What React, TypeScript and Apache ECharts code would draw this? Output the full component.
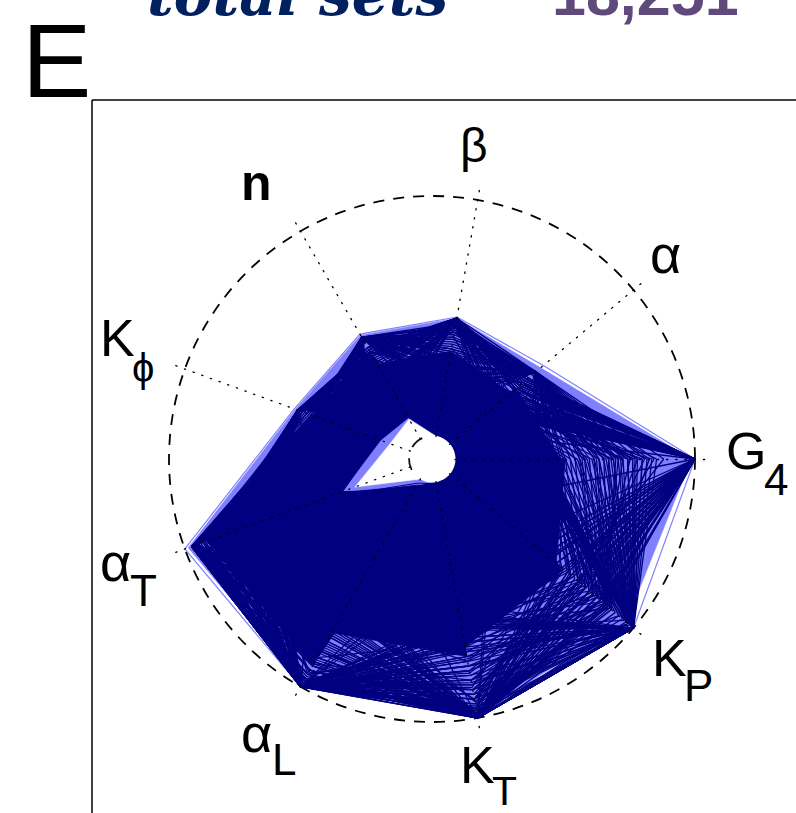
import React, { useEffect, useRef } from "react";
import * as echarts from "echarts";

const axisNames = ["G4", "α", "β", "n", "Kϕ", "αT", "αL", "KT", "KP"];

// Parameter sets, one row per set, read along the axes in the order above (0 = inner circle, 100 = outer circle).
const outerEnvelope = [100, 51, 50.5, 50.5, 51.5, 100, 100, 100, 100];
const lightBody = [98.5, 49.5, 50, 50, 51, 98.5, 98.5, 98.5, 96];
const lightHole = [0, 0, 0, 10, 13, 30, 3, 0, 0];
const emptyHole = [0, 0, 0, 9.6, 9, 24.6, 0, 0, 0];

// Regions where the sets overlap so thickly that they read as solid.
const solidRegions = [
  [0, 0, 0, 0, 0, 90, 90, 0, 0],
  [0, 0, 0, 0, 0, 0, 74, 74, 0],
  [0, 0, 0, 0, 0, 0, 0, 70, 62],
  [46, 0, 0, 0, 0, 0, 0, 0, 58],
  [44, 36, 0, 0, 0, 0, 0, 0, 0],
  [0, 33, 36, 0, 0, 0, 0, 0, 0],
  [0, 0, 36, 36, 0, 0, 0, 0, 0],
  [0, 0, 0, 42, 43, 0, 0, 0, 0],
  [0, 0, 0, 0, 44, 88, 0, 0, 0],
];

const setsAroundHole = [
  [2, 1, 1, 11, 15, 33, 4, 1, 1],
  [1, 1, 1, 12, 17, 36, 3, 2, 1],
  [1, 2, 1, 11, 14, 30, 6, 1, 2],
  [2, 1, 1, 13, 19, 38, 2, 1, 1],
  [1, 1, 2, 12, 16, 41, 5, 1, 1],
];

const setsA = [
  [100, 20, 50, 15, 50, 60, 100, 55, 40], [100, 22, 49, 18, 50, 62, 100, 57, 46], [100, 25, 50, 21, 49, 65, 100, 60, 52],
  [100, 27, 48, 24, 50, 66, 99, 62, 58], [100, 29, 50, 26, 50, 68, 100, 64, 63], [100, 31, 50, 28, 48, 70, 100, 66, 67],
  [99, 33, 49, 30, 50, 71, 100, 68, 71], [100, 35, 50, 32, 50, 73, 98, 70, 74], [100, 36, 50, 34, 49, 75, 100, 72, 77],
  [100, 37, 48, 35, 50, 76, 100, 74, 80], [100, 38, 50, 36, 50, 78, 100, 76, 83], [98, 38, 50, 38, 50, 79, 99, 78, 85],
  [100, 39, 49, 39, 48, 80, 100, 80, 87], [100, 39, 50, 40, 50, 82, 100, 82, 86], [100, 40, 50, 41, 50, 83, 100, 84, 82],
  [100, 40, 50, 42, 49, 85, 97, 86, 78], [100, 41, 48, 43, 50, 86, 100, 88, 74], [100, 41, 50, 44, 50, 88, 100, 90, 70],
  [100, 42, 50, 44, 50, 84, 100, 92, 66], [100, 42, 49, 43, 50, 80, 100, 94, 62], [100, 42, 50, 40, 50, 86, 100, 96, 58],
  [100, 42, 50, 37, 50, 77, 100, 98, 54], [100, 32, 50, 20, 50, 72, 100, 87, 55], [100, 26, 50, 37, 49, 84, 100, 69, 79],
  [100, 41, 48, 29, 50, 64, 100, 92, 61], [100, 36, 50, 44, 50, 87, 99, 58, 69], [99, 24, 50, 33, 48, 77, 100, 75, 84],
  [100, 40, 50, 23, 50, 87, 100, 63, 49], [100, 30, 49, 41, 50, 69, 100, 95, 76], [100, 39, 50, 27, 50, 82, 98, 81, 72],
];

const setsB = [
  [30, 47, 15, 49, 15, 97, 55, 100, 55], [33, 47, 18, 49, 18, 97, 58, 100, 58], [36, 47, 21, 49, 21, 97, 61, 100, 61],
  [38, 46, 23, 49, 23, 96, 63, 100, 64], [40, 47, 25, 48, 25, 97, 65, 99, 66], [42, 47, 27, 49, 27, 97, 67, 100, 68],
  [44, 47, 29, 49, 29, 95, 69, 100, 70], [46, 46, 31, 49, 31, 97, 71, 98, 72], [48, 47, 33, 49, 32, 97, 73, 100, 74],
  [50, 47, 34, 47, 34, 97, 75, 100, 76], [52, 47, 35, 49, 35, 96, 76, 100, 78], [54, 47, 36, 49, 36, 97, 78, 100, 80],
  [56, 45, 37, 49, 37, 97, 79, 99, 82], [58, 47, 38, 49, 38, 94, 81, 100, 84], [60, 47, 39, 48, 39, 97, 83, 100, 86],
  [62, 47, 40, 49, 40, 97, 84, 100, 87], [64, 47, 41, 49, 41, 97, 86, 97, 88], [67, 46, 42, 49, 42, 96, 87, 100, 85],
  [70, 47, 43, 49, 43, 97, 89, 100, 82], [73, 47, 44, 49, 44, 97, 90, 100, 80], [76, 47, 45, 48, 44, 97, 92, 100, 76],
  [79, 47, 46, 49, 43, 97, 94, 100, 72], [83, 47, 47, 49, 42, 97, 96, 100, 70], [87, 47, 48, 49, 40, 97, 98, 100, 66],
  [45, 47, 41, 49, 24, 97, 88, 100, 60], [59, 47, 22, 49, 44, 97, 62, 100, 85], [35, 46, 37, 49, 33, 95, 95, 100, 71],
  [68, 47, 30, 48, 19, 97, 72, 100, 84], [41, 47, 46, 49, 38, 97, 57, 99, 65], [53, 47, 26, 49, 42, 96, 83, 100, 78],
];

const setsC = [
  [42, 20, 48, 30, 22, 97, 60, 72, 100], [50, 33, 20, 49, 30, 70, 100, 60, 100], [58, 46, 30, 20, 50, 75, 64, 100, 100],
  [65, 28, 49, 35, 26, 88, 100, 66, 100], [72, 40, 25, 48, 33, 62, 90, 100, 100], [78, 24, 47, 28, 49, 86, 68, 76, 100],
  [84, 36, 33, 47, 24, 80, 100, 85, 100], [80, 30, 49, 24, 40, 97, 74, 100, 100], [76, 34, 28, 42, 50, 66, 94, 70, 100],
  [46, 25, 42, 47, 37, 97, 100, 62, 100], [55, 38, 48, 26, 43, 73, 82, 100, 100], [62, 47, 22, 38, 49, 84, 58, 93, 100],
  [74, 31, 37, 49, 29, 84, 100, 78, 100], [81, 43, 50, 33, 46, 97, 70, 100, 82], [70, 27, 35, 49, 38, 69, 98, 88, 100],
  [72, 35, 45, 31, 50, 86, 86, 68, 100], [52, 47, 50, 42, 48, 94, 100, 100, 100], [100, 36, 46, 40, 44, 94, 100, 92, 70],
  [60, 46, 49, 43, 41, 97, 92, 100, 100], [100, 38, 44, 41, 46, 92, 100, 96, 64], [68, 40, 48, 39, 43, 97, 96, 100, 100],
  [64, 37, 50, 44, 46, 91, 100, 100, 97], [66, 47, 46, 42, 45, 97, 98, 97, 100], [74, 35, 50, 44, 47, 87, 100, 98, 100],
  [15, 10, 24, 20, 27, 90, 100, 40, 30], [24, 18, 12, 30, 18, 97, 48, 100, 25], [12, 15, 50, 14, 50, 58, 100, 35, 45],
  [20, 47, 10, 49, 12, 82, 30, 100, 22], [28, 12, 30, 49, 20, 97, 40, 52, 100], [100, 8, 35, 12, 50, 40, 100, 28, 18],
];

const setsLower = [
  [36, 20, 20, 24, 30, 97, 100, 71, 100], [38, 22, 24, 26, 32, 72, 100, 74, 98], [34, 24, 18, 22, 28, 97, 100, 76, 66],
  [32, 18, 22, 28, 34, 78, 100, 78, 100], [40, 26, 26, 30, 36, 96, 100, 80, 70], [35, 20, 19, 24, 30, 82, 100, 82, 100],
  [37, 23, 24, 25, 31, 97, 100, 84, 74], [33, 21, 20, 27, 33, 86, 100, 86, 99], [39, 25, 27, 23, 29, 95, 100, 88, 78],
  [36, 19, 23, 29, 35, 90, 100, 90, 100], [34, 22, 21, 26, 32, 97, 100, 92, 82], [38, 24, 25, 24, 30, 93, 100, 94, 100],
  [35, 20, 22, 28, 34, 96, 100, 96, 86], [37, 23, 19, 25, 31, 97, 100, 98, 100], [36, 21, 26, 27, 33, 95, 99, 99, 90],
  [34, 18, 24, 23, 30, 74, 72, 100, 100], [38, 26, 20, 29, 36, 97, 75, 100, 72], [33, 24, 23, 25, 32, 80, 78, 100, 100],
  [40, 20, 27, 27, 28, 96, 80, 100, 76], [35, 22, 18, 24, 34, 84, 83, 100, 98], [37, 25, 25, 28, 31, 97, 86, 100, 80],
  [36, 19, 22, 26, 33, 88, 88, 100, 100], [39, 23, 26, 22, 29, 94, 90, 100, 84], [34, 21, 21, 30, 35, 92, 92, 100, 100],
  [38, 24, 24, 25, 30, 97, 94, 100, 88], [33, 20, 19, 27, 32, 95, 96, 100, 99], [36, 26, 23, 24, 34, 97, 98, 100, 92],
  [35, 22, 25, 28, 31, 95, 70, 66, 100], [37, 18, 20, 26, 33, 70, 97, 68, 100], [34, 24, 22, 23, 28, 97, 66, 92, 100],
  [41, 20, 24, 30, 36, 68, 93, 88, 100], [36, 23, 27, 25, 30, 97, 83, 96, 94], [32, 21, 18, 29, 34, 76, 100, 62, 95],
  [44, 25, 22, 26, 32, 97, 94, 72, 100], [30, 19, 26, 24, 29, 85, 60, 100, 96], [38, 22, 21, 27, 35, 97, 100, 80, 92],
  [28, 24, 25, 25, 31, 92, 76, 100, 86], [42, 20, 19, 28, 33, 64, 100, 90, 100], [35, 26, 23, 23, 30, 97, 89, 84, 97],
  [40, 21, 24, 29, 34, 91, 68, 100, 100],
];

const setsRight = [
  [100, 22, 24, 28, 30, 70, 55, 58, 46], [100, 28, 22, 26, 32, 68, 52, 60, 49], [100, 24, 26, 30, 28, 72, 57, 56, 52],
  [100, 30, 23, 27, 31, 66, 54, 62, 55], [100, 21, 25, 29, 33, 74, 56, 59, 58], [100, 26, 21, 25, 29, 70, 53, 57, 61],
  [100, 32, 27, 28, 30, 69, 58, 61, 64], [100, 23, 24, 31, 32, 71, 51, 60, 67], [100, 29, 22, 26, 28, 67, 55, 63, 70],
  [100, 25, 26, 27, 34, 73, 57, 58, 73], [100, 31, 23, 30, 31, 65, 52, 56, 76], [100, 20, 25, 28, 29, 70, 54, 62, 79],
  [100, 27, 21, 29, 33, 72, 56, 59, 83], [100, 33, 27, 25, 30, 68, 53, 61, 87],
  [48, 24, 22, 26, 30, 70, 54, 60, 100], [51, 22, 26, 29, 32, 66, 57, 58, 100], [54, 27, 23, 27, 28, 72, 52, 62, 100],
  [57, 21, 25, 30, 31, 69, 55, 56, 100], [60, 25, 21, 28, 33, 73, 58, 61, 100], [63, 29, 27, 25, 29, 67, 53, 59, 100],
  [66, 23, 24, 31, 30, 71, 56, 63, 100], [69, 26, 22, 26, 34, 65, 51, 57, 100], [72, 20, 26, 29, 28, 74, 54, 60, 100],
  [75, 28, 23, 27, 32, 68, 57, 58, 100], [78, 24, 25, 30, 31, 70, 52, 62, 100], [82, 22, 21, 28, 29, 72, 55, 56, 100],
];

const labelFont = '"Liberation Sans", Arial, sans-serif';
const CX = 432, CY = 459;

function lines(name: string, rows: number[][], color: string, width: number, z: number) {
  return {
    type: "radar", name, radarIndex: 0, symbol: "none", silent: true, z,
    lineStyle: { color, width, opacity: 1 },
    itemStyle: { color },
    data: rows.map((value) => ({ value })),
  };
}
function filled(name: string, rows: number[][], color: string, z: number) {
  return {
    type: "radar", name, radarIndex: 0, symbol: "none", silent: true, z,
    lineStyle: { color, width: 0.6, opacity: 1 },
    itemStyle: { color },
    areaStyle: { color, opacity: 1 },
    data: rows.map((value) => ({ value })),
  };
}
function label(text: string, x: number, y: number, size: number, weight = "normal") {
  return {
    type: "text", x, y, z: 20, silent: true,
    style: { text, fontSize: size, fontWeight: weight, fontFamily: labelFont, fill: "#000", align: "left", verticalAlign: "middle" },
  };
}
function innerDash(startDeg: number, endDeg: number) {
  return {
    type: "arc", z: 20, silent: true,
    shape: { cx: CX, cy: CY, r: 23, startAngle: (startDeg * Math.PI) / 180, endAngle: (endDeg * Math.PI) / 180, clockwise: true },
    style: { stroke: "#111", lineWidth: 1.8, fill: "none" },
  };
}

export default function App() {
  const ref = useRef<HTMLDivElement>(null);
  useEffect(() => {
    const chart = echarts.init(ref.current!, undefined, { renderer: "svg" });
    const indicator = axisNames.map((name) => ({ name, min: 0, max: 100 }));
    chart.setOption({
      animation: false,
      backgroundColor: "#fff",
      radar: [
        {
          center: [CX, CY], radius: [23, 263], startAngle: 0, shape: "circle", splitNumber: 1, indicator, z: 1,
          axisName: { show: false }, axisLine: { show: false }, axisTick: { show: false }, axisLabel: { show: false },
          splitArea: { show: false },
          splitLine: { show: true, lineStyle: { color: "#000", width: 1.8, type: [11, 9] } },
        },
        {
          center: [CX, CY], radius: [23, 273], startAngle: 0, shape: "circle", splitNumber: 1, indicator, z: 11,
          axisName: { show: false }, axisTick: { show: false }, axisLabel: { show: false },
          splitArea: { show: false }, splitLine: { show: false },
          axisLine: { show: true, lineStyle: { color: "#000", width: 1.3, type: [1.3, 7.9] } },
        },
      ],
      series: [
        filled("light body", [lightBody], "#8080ff", 2),
        lines("light edge", [outerEnvelope], "#8080ff", 1.2, 2),
        filled("solid regions", solidRegions, "#000080", 3),
        lines("sets A", setsA, "#000080", 1.3, 3),
        lines("sets B", setsB, "#000080", 1.3, 3),
        lines("sets C", setsC, "#000080", 1.3, 3),
        lines("sets lower", setsLower, "#000080", 1.3, 3),
        lines("sets right", setsRight, "#000080", 1.3, 3),
        filled("light hole", [lightHole], "#8080ff", 4),
        lines("sets around hole", setsAroundHole, "#000080", 1, 5),
        filled("hole", [emptyHole], "#ffffff", 6),
      ],
      graphic: [
        { type: "line", z: 20, silent: true, shape: { x1: 92, y1: 100, x2: 796, y2: 100 }, style: { stroke: "#000", lineWidth: 1.5 } },
        { type: "line", z: 20, silent: true, shape: { x1: 92, y1: 100, x2: 92, y2: 813 }, style: { stroke: "#000", lineWidth: 1.5 } },
        { type: "text", x: 147, y: 24, z: 20, silent: true, style: { text: "total sets", fontSize: 58, fontStyle: "italic", fontFamily: '"DejaVu Serif", serif', fontWeight: "bold", fill: "#002060", verticalAlign: "bottom", align: "left" } },
        { type: "text", x: 552, y: 24, z: 20, silent: true, style: { text: "18,251", fontSize: 61, fontWeight: "bold", fontFamily: labelFont, fill: "#604a7b", verticalAlign: "bottom", align: "left" } },
        { type: "circle", z: 8, silent: true, shape: { cx: CX, cy: CY, r: 23.5 }, style: { fill: "#fff" } },
        innerDash(211, 245),
        innerDash(152, 182),
        label("E", 22, 61, 104),
        label("β", 460, 145, 48),
        label("n", 241, 183, 50, "bold"),
        label("α", 650, 254, 54),
        label("K", 100, 338, 52), label("ϕ", 132, 368, 40),
        label("G", 726, 451, 52), label("4", 764, 479, 44),
        label("K", 652, 658, 52), label("P", 684, 685, 44),
        label("K", 460, 765, 52), label("T", 492, 791, 41),
        label("α", 241, 733, 54), label("L", 272, 759, 44),
        label("α", 100, 562, 54), label("T", 130, 590, 44),
      ],
    });
    return () => chart.dispose();
  }, []);
  return <div ref={ref} style={{ position: "fixed", left: 0, top: 0, width: 796, height: 813 }} />;
}
